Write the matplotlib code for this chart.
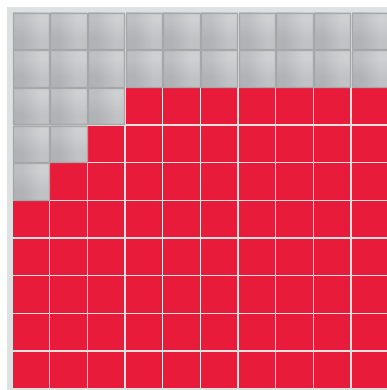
import matplotlib
matplotlib.use("Agg")
import matplotlib.pyplot as plt
from matplotlib.patches import Rectangle
from matplotlib.colors import LinearSegmentedColormap
import numpy as np

# waffle: 10 x 10 cells, 74 filled (red), 26 empty (grey)
n_rows = 10
n_cols = 10
empty_per_row = [10, 10, 3, 2, 1, 0, 0, 0, 0, 0]

fill_color = "#e81c3a"
panel_color = "#dfe0e0"
edge_grey = "#a6a7a9"

pitch = 37.67  # pixels per cell
x0_px, y0_px = 12, 12

fig = plt.figure(figsize=(3.87, 3.90), dpi=100)
fig.patch.set_facecolor("white")
ax = fig.add_axes([0, 0, 1, 1])
ax.set_xlim(-x0_px / pitch, (387 - x0_px) / pitch)
ax.set_ylim((390 - y0_px) / pitch, -y0_px / pitch)
ax.axis("off")

# light grey panel behind the cells
ax.add_patch(Rectangle((-5 / pitch, -5 / pitch), 20, 20,
                       facecolor=panel_color, edgecolor="none", zorder=0))

grey_cmap = LinearSegmentedColormap.from_list("g", ["#b1b2b5", "#cfd0d2"])
grad = np.array([[0.45, 1.0], [0.0, 0.55]])

gap = 1.6 / pitch
size = 1 - gap
for r in range(n_rows):
    for c in range(n_cols):
        x, y = c + gap / 2, r + gap / 2
        if c < empty_per_row[r]:
            ax.imshow(grad, cmap=grey_cmap, interpolation="bilinear",
                      extent=(x, x + size, y + size, y), zorder=1, aspect="auto")
            ax.add_patch(Rectangle((x, y), size, size, facecolor="none",
                                   edgecolor=edge_grey, linewidth=0.9, zorder=2))
        else:
            ax.add_patch(Rectangle((x, y), size, size, facecolor=fill_color,
                                   edgecolor="none", zorder=1))

ax.set_xlim(-x0_px / pitch, (387 - x0_px) / pitch)
ax.set_ylim((390 - y0_px) / pitch, -y0_px / pitch)

plt.savefig("out.png", dpi=100)
plt.close()
